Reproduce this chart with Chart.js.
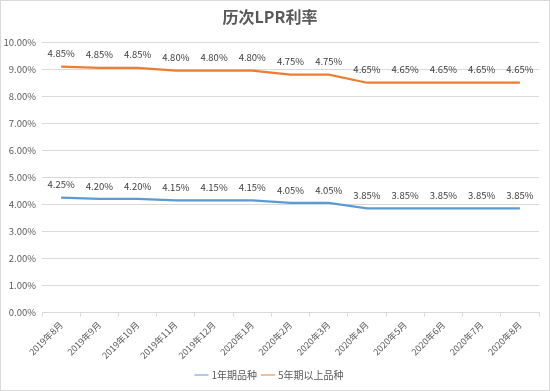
<!DOCTYPE html>
<html>
<head>
<meta charset="utf-8">
<script src="https://cdn.jsdelivr.net/npm/chart.js@4"></script>
<style>
  body { margin: 0; background: #fff; }
  #wrap { width: 550px; height: 391px; box-sizing: border-box; border: 1px solid #d9d9d9; }
  canvas { display: block; }
</style>
</head>
<body>
<div id="wrap"><canvas id="chart" width="548" height="389"></canvas></div>
<script>
// Data
const months = ["2019年8月", "2019年9月", "2019年10月", "2019年11月", "2019年12月", "2020年1月",
  "2020年2月", "2020年3月", "2020年4月", "2020年5月", "2020年6月", "2020年7月", "2020年8月"];
const rate1y = [4.25, 4.20, 4.20, 4.15, 4.15, 4.15, 4.05, 4.05, 3.85, 3.85, 3.85, 3.85, 3.85];
const rate5y = [4.85, 4.85, 4.85, 4.80, 4.80, 4.80, 4.75, 4.75, 4.65, 4.65, 4.65, 4.65, 4.65];
const seriesNames = ["1年期品种", "5年期以上品种"];

const FONT = "'Noto Sans CJK SC', 'Noto Sans', sans-serif";
const GREY = "#595959";

// Value labels above each point (raw values, lines are stacked)
const valueLabels = {
  id: "valueLabels",
  afterDatasetsDraw(chart) {
    const ctx = chart.ctx;
    ctx.save();
    ctx.font = "9.5px " + FONT;
    ctx.fillStyle = "#404040";
    ctx.textAlign = "center";
    ctx.textBaseline = "middle";
    chart.data.datasets.forEach((ds, i) => {
      chart.getDatasetMeta(i).data.forEach((pt, j) => {
        ctx.fillText(ds.data[j].toFixed(2) + "%", pt.x, pt.y - 13);
      });
    });
    ctx.restore();
  }
};

new Chart(document.getElementById("chart"), {
  type: "line",
  data: {
    labels: months,
    datasets: [
      { label: seriesNames[0], data: rate1y, borderColor: "#5b9bd5", backgroundColor: "#5b9bd5" },
      { label: seriesNames[1], data: rate5y, borderColor: "#ed7d31", backgroundColor: "#ed7d31" }
    ]
  },
  options: {
    responsive: false,
    animation: false,
    layout: { padding: { left: 0, right: 10, bottom: 0 } },
    elements: {
      line: { borderWidth: 2.25, tension: 0, fill: false },
      point: { radius: 0 }
    },
    plugins: {
      title: {
        display: true,
        text: "历次LPR利率",
        color: GREY,
        font: { family: FONT, size: 16, weight: "bold" },
        padding: { top: 6, bottom: 16 }
      },
      legend: {
        position: "bottom",
        labels: {
          usePointStyle: true,
          pointStyle: "line",
          boxWidth: 22,
          color: GREY,
          font: { family: FONT, size: 10 },
          padding: 6
        }
      },
      tooltip: { enabled: false }
    },
    scales: {
      x: {
        offset: true,
        grid: { display: true, drawOnChartArea: false, offset: true, tickLength: 4, color: "#d9d9d9" },
        border: { display: true, color: "#d9d9d9" },
        ticks: {
          autoSkip: false,
          minRotation: 45,
          maxRotation: 45,
          color: GREY,
          padding: 3,
          font: { family: FONT, size: 9 }
        }
      },
      y: {
        stacked: true,
        min: 0,
        max: 10,
        afterFit(scale) { scale.width = 41; },
        grid: { color: "#d9d9d9", drawTicks: false },
        border: { display: false },
        ticks: {
          stepSize: 1,
          padding: 6,
          color: GREY,
          font: { family: FONT, size: 9.5 },
          callback: v => v.toFixed(2) + "%"
        }
      }
    }
  },
  plugins: [valueLabels]
});
</script>
</body>
</html>
